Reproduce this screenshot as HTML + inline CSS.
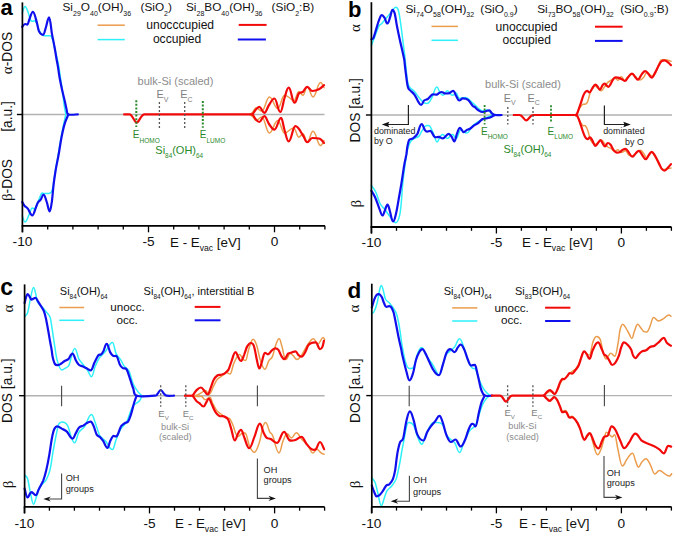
<!DOCTYPE html>
<html><head><meta charset="utf-8"><style>
html,body{margin:0;padding:0;background:#fff;overflow:hidden;width:675px;height:536px;}
svg{display:block;}
text{font-family:"Liberation Sans",sans-serif;}
</style></head><body>
<svg width="675" height="536" viewBox="0 0 675 536">
<rect width="675" height="536" fill="#fff"/>
<line x1="22.4" y1="114.5" x2="324.5" y2="114.5" stroke="#b2b2b2" stroke-width="1.4" />
<path d="M22.2,13.4 C22.7,12.2 23.8,6.5 25.0,6.5 C26.3,6.5 27.1,9.7 28.0,12.0 C28.9,14.3 29.8,18.6 30.6,20.2 C31.4,21.8 31.9,21.3 32.9,21.3 C33.6,21.3 33.9,20.7 34.6,20.7 C35.6,20.7 36.3,22.4 37.0,24.0 C37.7,25.6 38.0,28.1 39.0,30.0 C40.0,31.9 41.1,34.3 43.0,35.3 C44.9,36.3 48.7,35.3 50.2,35.8 C51.7,36.2 51.3,36.1 52.0,38.0 C52.7,39.9 53.7,43.7 54.5,47.0 C55.3,50.3 56.3,54.8 57.0,58.0 C57.7,61.2 58.1,62.7 58.7,66.0 C59.3,69.3 59.9,73.8 60.5,78.0 C61.1,82.2 61.9,86.7 62.5,91.0 C63.1,95.3 63.5,100.1 64.0,104.0 C64.5,107.9 65.5,112.7 65.8,114.4" fill="none" stroke="#2ef0f8" stroke-width="1.5" stroke-linejoin="round" stroke-linecap="round"/>
<path d="M65.8,114.4 C65.4,116.2 64.3,121.1 63.5,125.0 C62.7,128.9 61.9,133.0 61.0,138.0 C60.1,143.0 59.1,149.5 58.2,154.8 C57.3,160.1 56.4,164.7 55.5,170.0 C54.6,175.3 53.7,183.2 53.0,186.8 C52.3,190.4 52.0,190.7 51.4,191.8 C50.8,192.9 50.4,193.2 49.1,193.5 C47.8,193.8 44.8,193.4 43.5,193.5 C42.2,193.6 42.5,191.8 41.3,194.0 C40.0,196.2 37.1,204.5 36.0,207.0 C34.9,209.5 35.2,209.2 34.6,209.2 C33.6,209.2 33.3,208.0 32.3,208.0 C30.9,208.0 30.2,212.5 29.0,214.8 C27.8,217.1 26.7,222.0 25.0,222.0 C23.8,222.0 22.7,216.5 22.2,215.4" fill="none" stroke="#2ef0f8" stroke-width="1.5" stroke-linejoin="round" stroke-linecap="round"/>
<path d="M22.2,26.9 C22.7,26.4 23.8,24.0 25.0,24.0 C26.0,24.0 26.3,24.6 27.3,24.6 C28.2,24.6 28.6,21.1 29.5,19.0 C30.4,16.9 31.5,11.8 32.9,11.8 C34.5,11.8 35.8,19.1 36.8,22.4 C37.8,25.7 38.0,29.3 39.0,31.4 C40.0,33.5 41.3,34.9 43.0,34.9 C44.3,34.9 45.0,29.9 46.0,27.0 C47.0,24.1 47.8,17.4 49.1,17.4 C50.3,17.4 51.1,29.1 51.9,33.6 C52.7,38.2 53.4,40.6 54.1,44.7 C54.9,48.8 55.8,54.5 56.4,58.2 C57.0,61.9 57.5,63.7 58.0,67.1 C58.5,70.4 59.0,74.6 59.7,78.3 C60.4,82.0 61.2,85.8 62.0,89.5 C62.8,93.2 63.9,97.4 64.7,100.7 C65.5,104.0 66.0,107.2 66.6,109.5 C67.2,111.8 66.5,113.6 68.4,114.4 C70.3,115.2 76.2,114.4 77.8,114.4" fill="none" stroke="#1010ee" stroke-width="2.2" stroke-linejoin="round" stroke-linecap="round"/>
<path d="M68.4,114.4 C67.8,115.9 66.0,119.5 64.8,123.4 C63.6,127.3 62.4,132.8 61.4,138.0 C60.4,143.2 59.5,149.6 58.6,154.8 C57.7,160.0 56.6,164.4 55.8,169.4 C55.0,174.4 54.2,179.3 53.6,184.6 C53.0,189.9 52.5,196.9 51.9,201.4 C51.2,205.9 50.6,211.4 49.7,211.4 C48.5,211.4 47.9,205.3 46.9,202.5 C45.9,199.7 44.9,194.6 43.5,194.6 C42.3,194.6 41.6,198.4 40.7,199.7 C39.8,201.0 38.7,201.1 37.9,202.5 C37.1,203.9 36.6,205.8 35.7,208.0 C34.8,210.2 33.7,215.4 32.3,215.4 C30.4,215.4 29.1,210.2 27.8,208.6 C26.5,207.0 25.4,206.9 24.5,205.8 C23.6,204.7 22.6,202.6 22.2,201.9" fill="none" stroke="#1010ee" stroke-width="2.2" stroke-linejoin="round" stroke-linecap="round"/>
<path d="M250.0,114.4 C250.5,114.0 252.0,113.1 253.0,112.0 C254.0,110.9 254.7,107.8 256.0,107.8 C258.4,107.8 259.4,111.1 261.8,111.1 C265.0,111.1 266.2,96.9 269.4,96.9 C272.9,96.9 274.3,108.6 277.8,108.6 C280.6,108.6 281.7,95.2 284.5,95.2 C287.0,95.2 288.9,97.5 290.4,98.5 C291.9,99.5 292.3,101.0 293.7,101.0 C295.8,101.0 296.7,91.8 298.8,91.8 C300.6,91.8 301.2,95.2 303.0,95.2 C304.8,95.2 305.4,86.8 307.2,86.8 C309.6,86.8 310.6,96.9 313.0,96.9 C316.2,96.9 317.4,82.6 320.6,82.6 C322.0,82.6 323.4,86.8 324.0,87.6" fill="none" stroke="#eb9c4c" stroke-width="1.5" stroke-linejoin="round" stroke-linecap="round"/>
<path d="M250.0,114.4 C250.5,114.8 252.0,116.0 253.0,117.0 C254.0,118.0 254.7,120.4 256.0,120.4 C258.4,120.4 259.4,117.0 261.8,117.0 C265.0,117.0 266.2,133.0 269.4,133.0 C272.9,133.0 274.3,120.4 277.8,120.4 C280.6,120.4 281.7,133.0 284.5,133.0 C288.4,133.0 289.8,127.9 293.7,127.9 C295.8,127.9 296.7,137.2 298.8,137.2 C300.6,137.2 301.2,133.8 303.0,133.8 C304.8,133.8 305.4,142.2 307.2,142.2 C309.6,142.2 310.6,131.3 313.0,131.3 C316.2,131.3 317.4,145.6 320.6,145.6 C322.0,145.6 323.4,141.3 324.0,140.5" fill="none" stroke="#eb9c4c" stroke-width="1.5" stroke-linejoin="round" stroke-linecap="round"/>
<path d="M123.3,114.4 L129.5,114.4 C132.5,114.4 134.5,122.6 136.7,122.6 C139,122.6 141,114.4 144.5,114.4 L252.6,114.4" fill="none" stroke="#f20a0a" stroke-width="2.2"/>
<path d="M252.6,114.4 C253.1,113.7 254.4,111.2 255.5,110.0 C256.6,108.8 257.7,106.9 259.3,106.9 C261.4,106.9 262.2,112.8 264.3,112.8 C266.3,112.8 267.3,107.4 269.0,105.0 C270.7,102.6 272.1,98.5 274.4,98.5 C276.9,98.5 277.8,112.0 280.3,112.0 C282.1,112.0 283.1,102.1 284.5,98.0 C285.9,93.9 286.9,87.6 288.7,87.6 C291.2,87.6 292.1,102.7 294.6,102.7 C296.4,102.7 297.4,95.3 298.8,93.5 C300.2,91.7 301.6,92.9 303.0,91.8 C304.4,90.7 305.4,86.8 307.2,86.8 C309.3,86.8 310.1,91.0 312.2,91.0 C315.0,91.0 316.9,90.3 318.9,89.3 C320.9,88.3 323.1,85.8 324.0,85.1" fill="none" stroke="#f20a0a" stroke-width="2.2" stroke-linejoin="round" stroke-linecap="round"/>
<path d="M252.6,114.4 C253.1,115.2 254.4,117.7 255.5,119.0 C256.6,120.3 257.7,122.0 259.3,122.0 C261.4,122.0 262.2,116.2 264.3,116.2 C266.3,116.2 267.3,121.8 269.0,124.0 C270.7,126.2 272.1,129.6 274.4,129.6 C277.2,129.6 278.3,117.9 281.1,117.9 C282.5,117.9 283.2,126.1 284.5,130.0 C285.8,133.9 286.9,141.4 288.7,141.4 C291.5,141.4 292.6,126.2 295.4,126.2 C298.6,126.2 301.0,132.8 303.0,135.5 C305.0,138.2 305.4,142.2 307.2,142.2 C309.3,142.2 310.1,138.0 312.2,138.0 C315.4,138.0 317.8,138.0 319.8,138.8 C321.8,139.6 323.3,142.3 324.0,143.0" fill="none" stroke="#f20a0a" stroke-width="2.2" stroke-linejoin="round" stroke-linecap="round"/>
<line x1="136.3" y1="100.2" x2="136.3" y2="127.0" stroke="#2a8a2a" stroke-width="2" stroke-dasharray="2,1.6"/>
<line x1="202.8" y1="101.0" x2="202.8" y2="127.8" stroke="#2a8a2a" stroke-width="2" stroke-dasharray="2,1.6"/>
<line x1="159.4" y1="102.0" x2="159.4" y2="128.7" stroke="#555" stroke-width="1.3" stroke-dasharray="2,2"/>
<line x1="184.7" y1="102.0" x2="184.7" y2="128.7" stroke="#555" stroke-width="1.3" stroke-dasharray="2,2"/>
<line x1="22.4" y1="2.4" x2="22.4" y2="232.3" stroke="#000" stroke-width="1.7" />
<line x1="21.6" y1="225.8" x2="325.0" y2="225.8" stroke="#000" stroke-width="1.8" />
<line x1="22.5" y1="225.8" x2="22.5" y2="232.3" stroke="#000" stroke-width="1.3" />
<line x1="47.7" y1="225.8" x2="47.7" y2="229.6" stroke="#000" stroke-width="1.3" />
<line x1="72.9" y1="225.8" x2="72.9" y2="229.6" stroke="#000" stroke-width="1.3" />
<line x1="98.1" y1="225.8" x2="98.1" y2="229.6" stroke="#000" stroke-width="1.3" />
<line x1="123.3" y1="225.8" x2="123.3" y2="229.6" stroke="#000" stroke-width="1.3" />
<line x1="148.5" y1="225.8" x2="148.5" y2="232.3" stroke="#000" stroke-width="1.3" />
<line x1="173.7" y1="225.8" x2="173.7" y2="229.6" stroke="#000" stroke-width="1.3" />
<line x1="198.9" y1="225.8" x2="198.9" y2="229.6" stroke="#000" stroke-width="1.3" />
<line x1="224.1" y1="225.8" x2="224.1" y2="229.6" stroke="#000" stroke-width="1.3" />
<line x1="249.3" y1="225.8" x2="249.3" y2="229.6" stroke="#000" stroke-width="1.3" />
<line x1="274.5" y1="225.8" x2="274.5" y2="232.3" stroke="#000" stroke-width="1.3" />
<line x1="299.7" y1="225.8" x2="299.7" y2="229.6" stroke="#000" stroke-width="1.3" />
<line x1="324.9" y1="225.8" x2="324.9" y2="229.6" stroke="#000" stroke-width="1.3" />
<line x1="16.9" y1="114.5" x2="22.4" y2="114.5" stroke="#000" stroke-width="1.4" />
<text x="22.5" y="245.7" font-size="13.7" fill="#111" text-anchor="middle" font-weight="normal" font-family="Liberation Sans" >-10</text>
<text x="148.5" y="245.7" font-size="13.7" fill="#111" text-anchor="middle" font-weight="normal" font-family="Liberation Sans" >-5</text>
<text x="274.5" y="245.7" font-size="13.7" fill="#111" text-anchor="middle" font-weight="normal" font-family="Liberation Sans" >0</text>
<text x="170.0" y="246.5" font-size="13.4" fill="#111" font-family="Liberation Sans">E - E<tspan dy="4.3" font-size="8.6">vac</tspan><tspan dy="-4.3"> [eV]</tspan></text>
<text x="0.5" y="14.6" font-size="22" fill="#000" text-anchor="start" font-weight="bold" font-family="Liberation Sans" >a</text>
<text transform="translate(12.4,53.0) rotate(-90)" font-size="13.8" fill="#111" text-anchor="middle" font-family="Liberation Sans"><tspan font-family="Liberation Serif" font-size="15">&#945;</tspan>-DOS</text>
<text transform="translate(12.4,116.4) rotate(-90)" font-size="13.8" fill="#111" text-anchor="middle" font-family="Liberation Sans">[a.u.]</text>
<text transform="translate(12.4,180.0) rotate(-90)" font-size="13.8" fill="#111" text-anchor="middle" font-family="Liberation Sans"><tspan font-family="Liberation Serif" font-size="15">&#946;</tspan>-DOS</text>
<text x="62.5" y="11.0" font-size="11.8" fill="#111" text-anchor="start" font-weight="normal" font-family="Liberation Sans" >Si<tspan dy="5.0" font-size="7">29</tspan><tspan dy="-5.0">O</tspan><tspan dy="5.0" font-size="7">40</tspan><tspan dy="-5.0">(OH)</tspan><tspan dy="5.0" font-size="7">36</tspan></text>
<text x="140.5" y="11.0" font-size="11.8" fill="#111" text-anchor="start" font-weight="normal" font-family="Liberation Sans" >(SiO<tspan dy="5.0" font-size="7">2</tspan><tspan dy="-5.0">)</tspan></text>
<text x="186.0" y="11.0" font-size="11.8" fill="#111" text-anchor="start" font-weight="normal" font-family="Liberation Sans" >Si<tspan dy="5.0" font-size="7">28</tspan><tspan dy="-5.0">BO</tspan><tspan dy="5.0" font-size="7">40</tspan><tspan dy="-5.0">(OH)</tspan><tspan dy="5.0" font-size="7">36</tspan></text>
<text x="271.6" y="11.0" font-size="11.8" fill="#111" text-anchor="start" font-weight="normal" font-family="Liberation Sans" >(SiO<tspan dy="5.0" font-size="7">2</tspan><tspan dy="-5.0">:B)</tspan></text>
<line x1="97.6" y1="25.2" x2="124.8" y2="25.2" stroke="#eb9c4c" stroke-width="1.5" />
<line x1="97.6" y1="39.6" x2="124.8" y2="39.6" stroke="#2ef0f8" stroke-width="1.5" />
<line x1="238.7" y1="24.9" x2="266.6" y2="24.9" stroke="#f20a0a" stroke-width="2" />
<line x1="237.8" y1="39.5" x2="265.9" y2="39.5" stroke="#1010ee" stroke-width="2" />
<text x="146.2" y="28.5" font-size="12.1" fill="#111" text-anchor="start" font-weight="normal" font-family="Liberation Sans" >unocccupied</text>
<text x="152.9" y="42.8" font-size="12.1" fill="#111" text-anchor="start" font-weight="normal" font-family="Liberation Sans" >occupied</text>
<text x="137.6" y="85.1" font-size="11" fill="#8c8c8c" text-anchor="start" font-weight="normal" font-family="Liberation Sans" >bulk-Si (scaled)</text>
<text x="156.5" y="98.1" font-size="10.8" fill="#808080" text-anchor="start" font-weight="normal" font-family="Liberation Sans" >E<tspan dy="3.8" font-size="7">V</tspan></text>
<text x="180.3" y="98.1" font-size="10.8" fill="#808080" text-anchor="start" font-weight="normal" font-family="Liberation Sans" >E<tspan dy="3.8" font-size="7">C</tspan></text>
<text x="132.8" y="138.4" font-size="10" fill="#2a8a2a" text-anchor="start" font-weight="normal" font-family="Liberation Sans" >E<tspan dy="4.2" font-size="6.5">HOMO</tspan></text>
<text x="199.8" y="138.4" font-size="10" fill="#2a8a2a" text-anchor="start" font-weight="normal" font-family="Liberation Sans" >E<tspan dy="4.2" font-size="6.5">LUMO</tspan></text>
<text x="155.3" y="154.4" font-size="11" fill="#2a8a2a" text-anchor="start" font-weight="normal" font-family="Liberation Sans" >Si<tspan dy="3.8" font-size="6.4">84</tspan><tspan dy="-3.8">(OH)</tspan><tspan dy="3.8" font-size="6.4">64</tspan></text>
<line x1="371.4" y1="115.0" x2="672.0" y2="115.0" stroke="#b2b2b2" stroke-width="1.4" />
<path d="M371.4,45.4 C372.0,43.8 373.8,39.1 375.1,35.8 C376.4,32.5 377.9,27.9 379.0,25.8 C380.1,23.8 380.4,25.0 381.8,23.5 C383.2,22.0 385.7,18.9 387.4,16.8 C389.1,14.8 390.5,12.8 391.9,11.2 C393.3,9.6 394.2,7.3 395.8,7.3 C397.0,7.3 397.8,8.3 398.6,11.2 C399.4,14.1 400.1,19.4 400.8,24.6 C401.6,29.8 402.4,37.4 403.1,42.6 C403.8,47.8 404.3,51.8 404.8,56.0 C405.3,60.2 405.4,63.2 406.0,68.0 C406.6,72.8 407.0,81.0 408.4,84.9 C409.8,88.8 412.5,89.4 414.4,91.6 C416.3,93.8 418.0,96.4 419.6,98.3 C421.2,100.2 422.6,102.0 424.1,102.8 C425.6,103.5 427.2,103.8 428.6,102.8 C430.0,101.8 430.9,99.4 432.3,96.8 C433.7,94.2 434.9,87.1 436.8,87.1 C438.1,87.1 438.8,90.9 439.8,92.3 C440.8,93.7 441.5,95.3 442.8,95.3 C444.6,95.3 445.4,90.8 447.2,90.8 C449.4,90.8 450.3,95.3 452.5,95.3 C454.1,95.3 454.6,93.1 456.2,93.1 C457.5,93.1 457.9,98.3 459.2,98.3 C461.7,98.3 462.6,97.5 465.1,97.5 C468.2,97.5 470.5,101.0 472.6,102.8 C474.8,104.5 476.3,106.6 478.0,108.0 C479.7,109.4 480.9,111.0 483.0,111.0 C484.7,111.0 485.3,110.0 487.0,110.0 C488.3,110.0 489.0,111.2 490.0,112.0 C491.0,112.8 491.8,114.5 493.0,115.0 C494.2,115.5 496.3,115.0 497.0,115.0" fill="none" stroke="#2ef0f8" stroke-width="1.5" stroke-linejoin="round" stroke-linecap="round"/>
<path d="M371.3,185.4 C372.1,186.5 374.3,189.0 375.8,192.1 C377.3,195.2 378.8,201.1 380.3,204.0 C381.8,206.9 383.1,207.1 384.8,209.3 C386.5,211.6 388.8,215.3 390.7,217.5 C392.6,219.7 393.8,222.7 396.0,222.7 C397.6,222.7 398.8,219.0 399.7,215.2 C400.6,211.4 401.0,205.2 401.5,200.0 C402.0,194.8 402.1,189.7 402.7,183.9 C403.3,178.1 404.2,170.8 405.0,165.0 C405.8,159.2 406.6,152.9 407.7,148.8 C408.8,144.7 409.5,142.7 411.4,140.6 C413.3,138.5 417.1,137.7 418.9,136.1 C420.6,134.5 420.7,132.6 421.9,130.9 C423.1,129.2 424.5,125.7 426.3,125.7 C427.9,125.7 428.9,124.9 430.1,126.4 C431.4,127.9 432.6,132.0 433.8,134.6 C435.0,137.2 435.7,142.1 437.1,142.1 C438.2,142.1 438.9,138.2 439.8,136.9 C440.8,135.7 441.5,134.6 442.8,134.6 C444.6,134.6 445.4,138.4 447.2,138.4 C449.4,138.4 450.3,134.6 452.5,134.6 C454.1,134.6 454.6,138.4 456.2,138.4 C458.1,138.4 458.8,130.1 460.7,130.1 C463.2,130.1 464.1,133.1 466.6,133.1 C469.1,133.1 470.7,127.5 472.6,125.7 C474.5,123.9 476.3,123.1 478.0,122.0 C479.7,120.9 481.3,119.8 483.0,119.0 C484.7,118.2 486.3,117.7 488.0,117.0 C489.7,116.3 492.2,115.3 493.0,115.0" fill="none" stroke="#2ef0f8" stroke-width="1.5" stroke-linejoin="round" stroke-linecap="round"/>
<path d="M371.4,39.2 C371.7,39.0 372.6,39.7 373.4,38.0 C374.2,36.3 375.3,32.1 376.2,29.1 C377.1,26.1 378.1,22.5 379.0,20.2 C379.9,17.9 380.6,15.1 381.8,15.1 C383.0,15.1 383.7,16.5 384.6,17.9 C385.5,19.3 386.2,23.5 387.4,23.5 C388.6,23.5 389.4,19.1 390.2,16.8 C391.0,14.5 391.5,9.9 392.4,9.9 C393.4,9.9 393.9,10.8 394.7,13.4 C395.4,16.1 396.1,21.5 396.9,25.8 C397.7,30.1 398.8,34.9 399.7,39.2 C400.6,43.5 401.8,48.1 402.5,51.5 C403.2,54.9 403.7,56.3 404.2,59.4 C404.7,62.5 404.8,65.4 405.4,69.9 C406.0,74.4 406.9,82.9 407.7,86.3 C408.4,89.7 408.8,88.7 409.9,90.1 C411.0,91.5 413.0,92.7 414.4,94.6 C415.8,96.5 417.0,99.6 418.1,101.3 C419.2,103.0 419.8,105.0 421.1,105.0 C422.4,105.0 423.0,101.5 424.1,100.5 C425.2,99.5 426.4,100.0 427.8,99.0 C429.2,98.0 430.8,95.3 432.3,94.6 C433.8,93.9 435.3,95.0 436.8,94.6 C438.3,94.2 439.4,92.0 441.3,92.0 C443.1,92.0 443.9,93.5 445.7,93.5 C447.3,93.5 448.2,93.5 449.5,93.1 C450.8,92.6 451.6,90.8 453.2,90.8 C454.5,90.8 455.2,94.4 456.2,96.0 C457.2,97.6 457.9,100.5 459.2,100.5 C460.8,100.5 461.3,98.3 462.9,98.3 C465.1,98.3 466.5,98.6 468.1,99.8 C469.7,101.0 471.5,104.5 472.6,105.7 C473.8,106.9 474.0,106.4 475.0,107.2 C476.0,108.0 477.1,109.5 478.4,110.3 C479.7,111.1 480.8,112.0 482.6,112.0 C484.0,112.0 484.9,111.4 486.0,111.1 C487.1,110.8 487.9,110.3 489.3,110.3 C490.4,110.3 490.9,112.5 491.9,113.3 C492.9,114.1 493.6,114.7 495.2,115.0 C496.8,115.3 500.5,115.0 501.6,115.0" fill="none" stroke="#1010ee" stroke-width="2.2" stroke-linejoin="round" stroke-linecap="round"/>
<path d="M371.3,190.6 C371.9,191.7 373.7,194.2 375.1,197.3 C376.5,200.4 378.4,206.3 379.6,209.3 C380.8,212.3 381.3,215.5 382.5,215.5 C383.5,215.5 384.0,212.5 384.8,210.7 C385.6,208.9 386.4,204.5 387.5,204.5 C388.6,204.5 389.1,208.7 390.0,211.5 C390.9,214.3 391.7,221.5 393.0,221.5 C394.3,221.5 395.0,217.7 396.0,213.7 C397.0,209.7 398.2,201.9 399.0,197.3 C399.8,192.7 400.3,190.1 401.0,186.0 C401.7,181.9 402.4,177.0 403.0,173.0 C403.6,169.0 404.2,165.1 404.8,162.0 C405.4,158.9 405.9,157.1 406.4,154.4 C406.8,151.7 407.0,148.4 407.5,146.0 C408.0,143.6 408.3,141.2 409.2,139.9 C410.1,138.6 411.5,139.4 412.9,138.4 C414.3,137.4 415.9,136.3 417.4,133.9 C418.8,131.5 419.8,124.2 421.6,124.2 C423.0,124.2 424.0,128.9 424.9,130.1 C425.8,131.3 426.2,131.6 427.1,131.6 C428.4,131.6 428.8,130.9 430.1,130.9 C432.0,130.9 433.1,135.9 434.6,136.9 C436.1,137.9 437.6,136.7 439.0,136.9 C440.4,137.2 441.2,138.4 442.8,138.4 C445.3,138.4 446.2,133.9 448.7,133.9 C450.0,133.9 450.8,135.7 451.7,136.9 C452.6,138.1 453.2,141.3 454.3,141.3 C455.4,141.3 456.0,136.1 456.9,133.9 C457.8,131.7 458.6,127.9 459.9,127.9 C461.5,127.9 462.1,132.1 463.7,132.1 C464.9,132.1 465.6,130.7 466.6,130.1 C467.7,129.5 468.7,129.5 470.0,128.7 C471.3,127.9 472.8,126.4 474.2,125.4 C475.6,124.4 477.0,124.0 478.4,122.9 C479.8,121.8 481.3,119.7 482.6,119.0 C483.9,118.3 484.9,118.7 486.0,118.5 C487.1,118.3 488.3,118.1 489.3,117.8 C490.3,117.5 491.0,117.0 492.0,116.5 C493.0,116.0 494.7,115.2 495.2,115.0" fill="none" stroke="#1010ee" stroke-width="2.2" stroke-linejoin="round" stroke-linecap="round"/>
<path d="M512.9,115 L519.5,115 C522.5,115 524.2,120.4 526.3,120.4 C528.5,120.4 530,115 533,115 L575.3,115" fill="none" stroke="#f20a0a" stroke-width="2.2"/>
<path d="M575.3,115.0 C575.5,115.0 575.9,115.9 576.5,114.9 C577.1,114.0 577.9,110.9 578.7,109.3 C579.5,107.7 580.8,106.2 581.5,105.4 C582.2,104.6 582.6,104.4 583.2,104.2 C583.9,104.0 584.6,104.7 585.4,104.2 C586.1,103.7 587.0,103.2 587.7,101.4 C588.5,99.6 589.1,95.8 589.9,93.6 C590.6,91.4 591.5,89.3 592.2,88.0 C593.0,86.7 593.5,85.8 594.4,85.8 C595.8,85.8 596.7,87.2 597.8,88.0 C598.9,88.8 599.7,90.8 601.1,90.8 C602.5,90.8 603.4,88.3 604.5,86.9 C605.6,85.5 606.7,83.5 607.8,82.4 C608.9,81.3 610.1,81.0 611.2,80.2 C612.3,79.5 613.2,77.9 614.6,77.9 C616.0,77.9 616.5,80.2 617.9,80.2 C619.3,80.2 619.9,76.8 621.3,76.8 C622.7,76.8 623.2,80.2 624.6,80.2 C626.2,80.2 627.1,77.0 628.5,76.0 C629.9,75.0 631.1,74.1 632.9,74.1 C634.1,74.1 634.6,76.1 635.8,77.1 C636.9,78.1 638.1,80.1 639.8,80.1 C641.5,80.1 642.6,78.3 643.8,77.1 C644.9,75.8 645.5,72.6 646.7,72.6 C648.0,72.6 648.7,74.0 649.7,74.6 C650.8,75.2 651.6,76.0 653.0,76.0 C654.3,76.0 654.8,74.5 656.0,72.0 C657.2,69.5 658.9,63.3 660.0,61.3 C661.1,59.3 661.5,59.8 662.6,59.8 C664.4,59.8 665.6,59.8 667.0,60.0 C668.4,60.2 670.3,61.1 671.0,61.3" fill="none" stroke="#eb9c4c" stroke-width="1.5" stroke-linejoin="round" stroke-linecap="round"/>
<path d="M575.3,115.0 C575.5,115.0 575.9,114.4 576.5,115.1 C577.1,115.8 577.9,117.5 578.7,119.0 C579.5,120.5 580.8,122.9 581.5,124.0 C582.2,125.1 582.6,125.4 583.2,125.7 C583.9,126.0 584.6,125.0 585.4,125.7 C586.1,126.5 587.0,128.1 587.7,130.2 C588.5,132.2 589.1,135.9 589.9,138.0 C590.6,140.1 591.3,141.5 592.2,142.5 C593.1,143.5 594.1,144.2 595.5,144.2 C596.9,144.2 597.9,142.6 598.9,141.9 C599.9,141.2 600.5,140.2 601.7,140.2 C602.9,140.2 603.5,142.5 604.5,143.6 C605.5,144.7 606.7,146.2 607.8,147.0 C608.9,147.8 610.1,147.9 611.2,148.6 C612.3,149.3 613.2,151.4 614.6,151.4 C616.0,151.4 616.5,149.8 617.9,149.8 C619.3,149.8 619.9,152.6 621.3,152.6 C623.1,152.6 623.7,150.8 625.5,150.8 C626.9,150.8 627.7,154.4 628.9,155.2 C630.1,156.0 631.2,155.7 632.9,155.7 C634.4,155.7 635.3,153.4 636.5,152.5 C637.7,151.6 638.7,150.3 640.3,150.3 C641.8,150.3 642.7,152.5 643.8,153.7 C644.9,154.9 645.5,157.7 646.7,157.7 C648.8,157.7 649.6,152.3 651.7,152.3 C653.3,152.3 654.3,155.0 655.6,157.2 C656.9,159.4 658.3,163.5 659.6,165.6 C660.9,167.7 661.9,169.6 663.5,169.6 C665.2,169.6 666.2,168.8 667.5,168.6 C668.8,168.3 670.4,168.2 671.0,168.1" fill="none" stroke="#eb9c4c" stroke-width="1.5" stroke-linejoin="round" stroke-linecap="round"/>
<path d="M575.3,115.0 C575.5,115.0 575.9,115.9 576.5,114.9 C577.1,114.0 578.0,111.3 578.7,109.3 C579.5,107.2 580.2,104.8 581.0,102.6 C581.8,100.3 582.5,97.6 583.2,95.8 C583.9,94.0 584.8,92.7 585.4,91.9 C586.0,91.1 586.4,90.8 587.1,90.8 C588.1,90.8 588.4,92.5 589.4,92.5 C590.6,92.5 591.2,89.9 592.2,88.6 C593.2,87.3 594.1,84.6 595.5,84.6 C596.5,84.6 597.0,86.1 597.8,86.9 C598.5,87.8 599.1,89.7 600.0,89.7 C600.9,89.7 601.5,86.8 602.2,85.8 C603.0,84.8 603.5,83.5 604.5,83.5 C605.2,83.5 605.6,84.6 606.2,85.2 C606.9,85.8 607.5,86.9 608.4,86.9 C609.3,86.9 609.8,85.4 610.6,84.1 C611.4,82.8 612.5,80.1 613.4,79.0 C614.2,77.9 614.7,77.4 615.7,77.4 C617.1,77.4 617.9,77.5 619.0,77.9 C620.1,78.3 621.4,79.1 622.4,79.6 C623.4,80.1 623.9,81.0 625.0,81.0 C626.2,81.0 626.8,78.8 627.9,77.6 C629.0,76.4 630.2,73.6 631.9,73.6 C633.2,73.6 633.9,75.6 634.9,76.6 C635.9,77.6 636.6,79.6 637.8,79.6 C639.5,79.6 640.6,75.5 641.8,74.1 C643.0,72.7 643.8,71.2 645.2,71.2 C646.5,71.2 647.1,72.5 648.2,73.6 C649.3,74.7 650.2,77.6 651.7,77.6 C653.1,77.6 654.0,74.6 655.1,72.6 C656.2,70.6 657.5,67.6 658.6,65.7 C659.7,63.8 660.6,62.2 661.6,61.3 C662.6,60.4 663.3,60.3 664.5,60.3 C666.0,60.3 666.9,61.5 668.0,62.3 C669.1,63.1 670.5,64.7 671.0,65.2" fill="none" stroke="#f20a0a" stroke-width="2.2" stroke-linejoin="round" stroke-linecap="round"/>
<path d="M575.3,115.0 C575.5,115.0 575.9,114.4 576.5,115.1 C577.1,115.8 578.0,117.2 578.7,119.0 C579.5,120.8 580.2,123.5 581.0,125.7 C581.8,127.9 582.5,130.5 583.2,132.4 C583.9,134.3 584.6,136.3 585.4,137.4 C586.1,138.5 586.7,139.1 587.7,139.1 C588.6,139.1 589.0,137.4 589.9,137.4 C590.9,137.4 591.3,138.8 592.2,140.2 C593.1,141.6 594.1,145.8 595.5,145.8 C596.7,145.8 597.4,143.4 598.3,142.5 C599.1,141.6 599.6,140.2 600.6,140.2 C601.5,140.2 602.1,142.6 602.8,143.6 C603.5,144.6 604.1,146.4 605.0,146.4 C606.2,146.4 606.6,143.0 607.8,143.0 C609.0,143.0 609.7,143.6 610.6,144.7 C611.5,145.8 612.4,148.5 613.4,149.8 C614.4,151.1 615.4,152.6 616.8,152.6 C618.2,152.6 619.3,152.4 620.2,152.0 C621.1,151.6 621.1,150.8 622.0,150.3 C622.9,149.8 624.0,148.8 625.5,148.8 C626.9,148.8 627.8,151.4 628.9,152.7 C630.0,154.0 630.9,156.7 632.4,156.7 C633.8,156.7 634.7,154.2 635.8,153.2 C636.9,152.2 637.5,150.8 638.8,150.8 C640.3,150.8 641.1,153.8 642.3,155.2 C643.4,156.6 644.3,159.2 645.7,159.2 C647.0,159.2 647.7,156.4 648.7,155.2 C649.7,154.0 650.4,151.8 651.7,151.8 C652.9,151.8 653.5,153.4 654.6,155.2 C655.8,157.0 657.4,160.4 658.6,162.6 C659.8,164.8 660.6,167.3 661.6,168.6 C662.6,169.9 663.3,170.6 664.5,170.6 C666.0,170.6 666.9,168.7 668.0,167.6 C669.1,166.5 670.5,164.7 671.0,164.1" fill="none" stroke="#f20a0a" stroke-width="2.2" stroke-linejoin="round" stroke-linecap="round"/>
<line x1="484.6" y1="104.9" x2="484.6" y2="124.5" stroke="#2a8a2a" stroke-width="1.8" stroke-dasharray="2,1.6"/>
<line x1="551.0" y1="105.2" x2="551.0" y2="122.9" stroke="#2a8a2a" stroke-width="1.8" stroke-dasharray="2,1.6"/>
<line x1="507.8" y1="106.9" x2="507.8" y2="124.5" stroke="#555" stroke-width="1.3" stroke-dasharray="2,2"/>
<line x1="533.0" y1="106.9" x2="533.0" y2="124.5" stroke="#555" stroke-width="1.3" stroke-dasharray="2,2"/>
<line x1="371.4" y1="2.2" x2="371.4" y2="233.5" stroke="#000" stroke-width="1.7" />
<line x1="370.6" y1="227.0" x2="671.5" y2="227.0" stroke="#000" stroke-width="1.8" />
<line x1="371.5" y1="227.0" x2="371.5" y2="233.5" stroke="#000" stroke-width="1.3" />
<line x1="396.5" y1="227.0" x2="396.5" y2="230.8" stroke="#000" stroke-width="1.3" />
<line x1="421.5" y1="227.0" x2="421.5" y2="230.8" stroke="#000" stroke-width="1.3" />
<line x1="446.5" y1="227.0" x2="446.5" y2="230.8" stroke="#000" stroke-width="1.3" />
<line x1="471.5" y1="227.0" x2="471.5" y2="230.8" stroke="#000" stroke-width="1.3" />
<line x1="496.4" y1="227.0" x2="496.4" y2="233.5" stroke="#000" stroke-width="1.3" />
<line x1="521.4" y1="227.0" x2="521.4" y2="230.8" stroke="#000" stroke-width="1.3" />
<line x1="546.4" y1="227.0" x2="546.4" y2="230.8" stroke="#000" stroke-width="1.3" />
<line x1="571.4" y1="227.0" x2="571.4" y2="230.8" stroke="#000" stroke-width="1.3" />
<line x1="596.4" y1="227.0" x2="596.4" y2="230.8" stroke="#000" stroke-width="1.3" />
<line x1="621.4" y1="227.0" x2="621.4" y2="233.5" stroke="#000" stroke-width="1.3" />
<line x1="646.4" y1="227.0" x2="646.4" y2="230.8" stroke="#000" stroke-width="1.3" />
<line x1="671.4" y1="227.0" x2="671.4" y2="230.8" stroke="#000" stroke-width="1.3" />
<line x1="365.9" y1="115.0" x2="371.4" y2="115.0" stroke="#000" stroke-width="1.4" />
<text x="371.5" y="246.6" font-size="13.7" fill="#111" text-anchor="middle" font-weight="normal" font-family="Liberation Sans" >-10</text>
<text x="496.4" y="246.6" font-size="13.7" fill="#111" text-anchor="middle" font-weight="normal" font-family="Liberation Sans" >-5</text>
<text x="621.4" y="246.6" font-size="13.7" fill="#111" text-anchor="middle" font-weight="normal" font-family="Liberation Sans" >0</text>
<text x="522.1" y="246.6" font-size="13.4" fill="#111" font-family="Liberation Sans">E - E<tspan dy="4.3" font-size="8.6">vac</tspan><tspan dy="-4.3"> [eV]</tspan></text>
<text x="348.0" y="17.0" font-size="22" fill="#000" text-anchor="start" font-weight="bold" font-family="Liberation Sans" >b</text>
<text transform="translate(360.0,28.0) rotate(-90)" font-size="15" fill="#111" text-anchor="middle" font-family="Liberation Sans"><tspan font-family="Liberation Serif">&#945;</tspan></text>
<text transform="translate(360.3,110.3) rotate(-90)" font-size="13.8" fill="#111" text-anchor="middle" font-family="Liberation Sans">DOS [a.u.]</text>
<text transform="translate(360.5,203.6) rotate(-90)" font-size="15" fill="#111" text-anchor="middle" font-family="Liberation Sans"><tspan font-family="Liberation Serif">&#946;</tspan></text>
<text x="405.5" y="12.5" font-size="11.8" fill="#111" text-anchor="start" font-weight="normal" font-family="Liberation Sans" >Si<tspan dy="4.5" font-size="7">74</tspan><tspan dy="-4.5">O</tspan><tspan dy="4.5" font-size="7">58</tspan><tspan dy="-4.5">(OH)</tspan><tspan dy="4.5" font-size="7">32</tspan></text>
<text x="480.3" y="12.5" font-size="11.8" fill="#111" text-anchor="start" font-weight="normal" font-family="Liberation Sans" >(SiO<tspan dy="4.5" font-size="7">0.9</tspan><tspan dy="-4.5">)</tspan></text>
<text x="537.2" y="12.5" font-size="11.8" fill="#111" text-anchor="start" font-weight="normal" font-family="Liberation Sans" >Si<tspan dy="4.5" font-size="7">73</tspan><tspan dy="-4.5">BO</tspan><tspan dy="4.5" font-size="7">58</tspan><tspan dy="-4.5">(OH)</tspan><tspan dy="4.5" font-size="7">32</tspan></text>
<text x="620.2" y="12.5" font-size="11.8" fill="#111" text-anchor="start" font-weight="normal" font-family="Liberation Sans" >(SiO<tspan dy="4.5" font-size="7">0.9</tspan><tspan dy="-4.5">:B)</tspan></text>
<line x1="431.5" y1="26.4" x2="457.9" y2="26.4" stroke="#eb9c4c" stroke-width="1.5" />
<line x1="431.5" y1="40.3" x2="457.9" y2="40.3" stroke="#2ef0f8" stroke-width="1.5" />
<line x1="595.0" y1="26.7" x2="622.6" y2="26.7" stroke="#f20a0a" stroke-width="2" />
<line x1="595.0" y1="40.9" x2="622.6" y2="40.9" stroke="#1010ee" stroke-width="2" />
<text x="495.6" y="30.5" font-size="12.1" fill="#111" text-anchor="start" font-weight="normal" font-family="Liberation Sans" >unoccupied</text>
<text x="502.5" y="44.4" font-size="12.1" fill="#111" text-anchor="start" font-weight="normal" font-family="Liberation Sans" >occupied</text>
<text x="485.1" y="88.1" font-size="11" fill="#8c8c8c" text-anchor="start" font-weight="normal" font-family="Liberation Sans" >bulk-Si (scaled)</text>
<text x="503.7" y="101.6" font-size="10.8" fill="#808080" text-anchor="start" font-weight="normal" font-family="Liberation Sans" >E<tspan dy="3.8" font-size="7">V</tspan></text>
<text x="527.5" y="101.6" font-size="10.8" fill="#808080" text-anchor="start" font-weight="normal" font-family="Liberation Sans" >E<tspan dy="3.8" font-size="7">C</tspan></text>
<text x="481.0" y="134.6" font-size="10" fill="#2a8a2a" text-anchor="start" font-weight="normal" font-family="Liberation Sans" >E<tspan dy="4.2" font-size="6.5">HOMO</tspan></text>
<text x="547.6" y="134.6" font-size="10" fill="#2a8a2a" text-anchor="start" font-weight="normal" font-family="Liberation Sans" >E<tspan dy="4.2" font-size="6.5">LUMO</tspan></text>
<text x="503.6" y="153.1" font-size="11" fill="#2a8a2a" text-anchor="start" font-weight="normal" font-family="Liberation Sans" >Si<tspan dy="3.8" font-size="6.4">84</tspan><tspan dy="-3.8">(OH)</tspan><tspan dy="3.8" font-size="6.4">64</tspan></text>
<path d="M408.4,105.1 L408.4,124.5 L386.8,124.5" fill="none" stroke="#222" stroke-width="1.2"/>
<path d="M381.8,124.5 L389.3,121.7 L388.1,124.5 L389.3,127.3 Z" fill="#111"/>
<path d="M604.4,105.5 L604.4,124.5 L625.8,124.5" fill="none" stroke="#222" stroke-width="1.2"/>
<path d="M630.8,124.5 L623.3,121.7 L624.5,124.5 L623.3,127.3 Z" fill="#111"/>
<text x="374.0" y="133.6" font-size="8.9" fill="#222" text-anchor="start" font-weight="normal" font-family="Liberation Sans" >dominated</text>
<text x="374.0" y="144.3" font-size="8.9" fill="#222" text-anchor="start" font-weight="normal" font-family="Liberation Sans" >by O</text>
<text x="603.2" y="134.4" font-size="8.9" fill="#222" text-anchor="start" font-weight="normal" font-family="Liberation Sans" >dominated</text>
<text x="643.8" y="145.4" font-size="8.9" fill="#222" text-anchor="end" font-weight="normal" font-family="Liberation Sans" >by O</text>
<line x1="24.6" y1="395.7" x2="324.6" y2="395.7" stroke="#b2b2b2" stroke-width="1.4" />
<path d="M24.6,316.5 C25.1,315.9 26.6,315.9 27.6,312.8 C28.6,309.7 29.6,302.1 30.6,297.9 C31.6,293.7 32.3,287.4 33.6,287.4 C34.5,287.4 35.2,291.7 35.8,294.1 C36.4,296.5 36.5,299.7 37.3,301.6 C38.0,303.5 39.3,304.2 40.3,305.3 C41.3,306.4 42.3,307.2 43.3,308.3 C44.3,309.4 45.2,310.6 46.3,312.0 C47.4,313.4 49.0,314.3 50.0,317.0 C51.0,319.7 51.4,324.5 52.0,328.0 C52.6,331.5 53.0,334.7 53.5,338.0 C54.0,341.3 54.4,344.3 55.0,348.0 C55.6,351.7 56.1,356.6 57.2,360.3 C58.3,364.0 59.8,370.0 61.6,370.0 C63.2,370.0 64.2,369.0 65.4,368.1 C66.7,367.2 67.5,368.1 69.1,364.8 C70.7,361.5 72.4,348.4 74.8,348.4 C76.5,348.4 77.4,356.1 78.8,358.8 C80.2,361.5 81.8,362.8 83.3,364.8 C84.8,366.8 86.4,368.7 87.8,370.7 C89.2,372.7 89.9,376.7 91.5,376.7 C93.1,376.7 93.8,369.5 95.2,366.3 C96.6,363.1 98.0,359.8 99.7,357.3 C101.5,354.8 103.6,353.8 105.7,351.3 C107.8,348.8 109.6,342.4 112.4,342.4 C114.0,342.4 114.7,350.7 116.1,353.6 C117.5,356.5 119.2,357.5 120.6,359.6 C122.0,361.7 122.9,364.5 124.3,366.3 C125.7,368.1 127.3,367.7 128.8,370.7 C130.3,373.7 131.7,380.6 133.3,384.2 C134.9,387.8 137.1,390.5 138.5,392.4 C139.9,394.3 141.4,395.1 142.0,395.7" fill="none" stroke="#2ef0f8" stroke-width="1.5" stroke-linejoin="round" stroke-linecap="round"/>
<path d="M142.0,395.7 C141.6,396.6 140.9,399.1 139.3,401.0 C137.7,402.9 134.6,403.4 132.5,406.9 C130.4,410.4 128.6,418.2 126.6,421.9 C124.6,425.6 122.3,426.3 120.6,429.3 C118.8,432.3 117.5,436.4 116.1,439.8 C114.7,443.2 114.0,449.5 112.4,449.5 C109.6,449.5 107.8,443.7 105.7,441.3 C103.6,438.9 101.5,438.4 99.7,435.3 C98.0,432.2 96.6,426.1 95.2,422.6 C93.8,419.1 93.1,414.4 91.5,414.4 C88.7,414.4 86.9,423.3 84.8,426.3 C82.7,429.3 80.5,429.6 78.8,432.3 C77.1,435.1 76.4,442.8 74.6,442.8 C73.2,442.8 72.5,440.4 71.3,437.5 C70.1,434.6 69.1,428.2 67.6,425.6 C66.1,423.0 64.4,421.9 62.1,421.9 C60.7,421.9 59.7,422.1 58.7,424.1 C57.8,426.1 57.0,431.2 56.4,433.8 C55.8,436.4 55.8,437.0 55.2,440.0 C54.6,443.0 53.9,446.9 53.0,451.9 C52.1,456.9 51.1,465.3 50.0,469.9 C48.9,474.5 47.7,477.1 46.3,479.6 C44.9,482.1 43.0,483.2 41.8,484.8 C40.5,486.4 39.8,486.9 38.8,489.3 C37.8,491.7 36.7,496.5 35.8,499.0 C34.9,501.5 34.5,504.2 33.6,504.2 C32.3,504.2 31.6,497.9 30.6,493.7 C29.6,489.5 28.6,481.9 27.6,478.8 C26.6,475.7 25.1,475.7 24.6,475.1" fill="none" stroke="#2ef0f8" stroke-width="1.5" stroke-linejoin="round" stroke-linecap="round"/>
<path d="M24.6,303.1 C24.9,302.1 25.6,298.6 26.1,297.1 C26.6,295.6 27.0,294.1 27.6,294.1 C28.6,294.1 29.3,296.2 29.9,297.1 C30.5,298.0 30.7,299.6 31.3,299.6 C32.3,299.6 32.9,298.9 33.6,298.6 C34.3,298.3 34.7,297.9 35.5,297.9 C36.6,297.9 37.2,300.2 38.1,301.6 C39.0,303.0 40.0,304.5 41.0,306.1 C42.0,307.7 43.1,309.0 44.0,311.3 C44.9,313.6 45.5,316.7 46.3,320.2 C47.0,323.7 47.9,328.7 48.5,332.2 C49.1,335.7 49.5,338.2 50.0,341.0 C50.5,343.8 51.0,346.3 51.5,349.0 C52.0,351.7 52.1,354.8 52.7,357.3 C53.3,359.8 54.0,362.7 54.9,364.0 C55.8,365.3 56.6,365.1 57.9,365.1 C59.5,365.1 60.5,364.0 61.6,363.3 C62.7,362.6 63.5,361.7 64.6,361.0 C65.7,360.3 67.1,360.3 68.4,359.1 C69.7,357.9 70.8,353.6 72.5,353.6 C73.9,353.6 74.8,358.4 75.8,360.3 C76.8,362.2 77.7,363.8 78.8,364.8 C79.9,365.8 81.1,365.7 82.5,366.3 C83.9,366.9 85.6,367.8 87.0,368.5 C88.4,369.2 89.1,370.4 90.7,370.4 C92.3,370.4 93.2,365.0 94.5,362.5 C95.8,360.0 97.1,356.9 98.2,355.5 C99.3,354.1 100.3,355.0 101.2,354.3 C102.1,353.6 102.5,353.0 103.4,351.3 C104.3,349.6 105.3,343.9 106.7,343.9 C108.1,343.9 109.0,350.1 110.1,352.1 C111.2,354.1 112.0,355.1 113.1,355.8 C114.2,356.6 115.8,355.1 116.9,356.6 C118.0,358.1 118.9,362.9 119.9,364.8 C120.9,366.7 121.7,367.4 122.8,368.1 C123.9,368.9 125.3,367.4 126.6,369.3 C127.8,371.2 129.2,376.5 130.3,379.7 C131.4,382.9 132.2,386.0 133.3,388.7 C134.4,391.4 133.1,394.5 136.7,395.7 C140.3,396.9 151.2,396.0 154.7,395.7 C158.2,395.4 156.5,394.8 157.5,393.8 C158.5,392.9 159.4,390.0 160.7,390.0 C162.1,390.0 163.0,392.9 164.0,393.8 C165.0,394.8 165.0,395.4 166.7,395.7 C168.4,396.0 172.8,395.7 174.0,395.7" fill="none" stroke="#1010ee" stroke-width="2.2" stroke-linejoin="round" stroke-linecap="round"/>
<path d="M136.7,395.7 C136.2,396.9 134.9,400.1 134.0,403.2 C133.1,406.3 132.0,411.3 131.0,414.4 C130.0,417.4 129.1,420.1 128.1,421.5 C127.1,422.9 126.0,422.4 125.0,423.0 C124.0,423.6 122.7,424.6 122.0,425.3 C121.3,426.0 121.4,425.3 120.6,427.1 C119.8,428.9 118.2,434.5 116.9,436.0 C115.7,437.5 114.2,435.1 113.1,436.0 C112.0,436.9 111.0,439.3 110.1,441.3 C109.2,443.3 108.6,448.0 107.5,448.0 C105.8,448.0 104.6,443.1 103.4,441.3 C102.2,439.6 101.5,438.6 100.4,437.5 C99.3,436.4 97.8,436.5 96.7,434.6 C95.6,432.7 94.7,428.5 93.7,426.3 C92.7,424.1 92.0,421.6 90.7,421.6 C88.9,421.6 87.5,422.7 86.3,423.4 C85.1,424.1 84.5,424.9 83.3,425.6 C82.1,426.3 80.3,426.2 79.1,427.5 C77.8,428.8 76.9,431.2 75.8,433.1 C74.7,435.0 73.9,438.6 72.5,438.6 C70.1,438.6 68.7,433.3 66.9,431.6 C65.1,429.9 63.2,429.5 61.6,428.6 C60.0,427.7 59.0,426.3 57.2,426.3 C55.9,426.3 55.1,427.3 54.2,429.3 C53.3,431.3 52.7,434.0 51.9,438.3 C51.1,442.6 50.2,449.6 49.3,454.9 C48.4,460.2 47.3,465.7 46.3,469.9 C45.3,474.1 44.5,477.1 43.3,480.3 C42.0,483.5 40.0,486.8 38.8,489.3 C37.5,491.8 37.1,495.2 35.8,495.2 C34.9,495.2 34.3,494.2 33.6,493.7 C32.9,493.2 32.4,492.2 31.6,492.2 C30.9,492.2 30.6,492.8 29.9,493.7 C29.2,494.6 28.6,497.5 27.6,497.5 C26.3,497.5 25.1,490.0 24.6,488.5" fill="none" stroke="#1010ee" stroke-width="2.2" stroke-linejoin="round" stroke-linecap="round"/>
<path d="M194.9,395.7 C195.4,395.6 196.9,395.3 198.0,394.8 C199.1,394.3 200.4,393.4 201.6,392.7 C202.8,392.0 203.8,390.4 205.4,390.4 C207.0,390.4 207.5,394.2 209.1,394.2 C211.0,394.2 212.2,388.5 213.6,386.0 C215.0,383.5 215.8,381.1 217.3,379.3 C218.8,377.6 221.0,376.6 222.5,375.5 C224.0,374.4 224.7,372.5 226.3,372.5 C227.9,372.5 228.4,374.0 230.0,374.0 C231.6,374.0 232.4,366.6 233.7,363.6 C234.9,360.6 236.5,357.6 237.5,356.1 C238.5,354.6 238.8,354.6 239.7,354.6 C241.0,354.6 241.8,358.1 242.7,359.1 C243.6,360.1 244.3,360.6 245.4,360.6 C246.8,360.6 247.4,353.0 248.7,349.4 C250.0,345.8 251.3,339.2 253.1,339.2 C254.6,339.2 255.5,341.9 256.7,345.4 C257.9,348.9 259.0,356.3 260.4,360.3 C261.8,364.3 263.0,369.3 264.9,369.3 C266.5,369.3 267.4,363.1 268.7,361.0 C269.9,358.9 271.3,359.1 272.4,356.6 C273.5,354.1 274.3,349.1 275.4,346.1 C276.5,343.1 277.5,338.7 279.1,338.7 C280.4,338.7 281.0,343.4 282.1,346.9 C283.2,350.4 284.2,359.6 285.8,359.6 C287.7,359.6 288.4,353.6 290.3,353.6 C291.6,353.6 292.2,354.8 293.3,355.8 C294.4,356.8 295.4,359.6 297.0,359.6 C298.9,359.6 299.9,357.4 301.5,355.1 C303.1,352.9 305.2,348.5 306.7,346.1 C308.2,343.7 309.3,342.1 310.4,340.9 C311.5,339.7 312.1,338.7 313.4,338.7 C315.3,338.7 316.0,343.9 317.9,343.9 C320.1,343.9 320.9,337.6 323.1,337.6 C323.7,337.6 324.4,339.1 324.6,339.4" fill="none" stroke="#eb9c4c" stroke-width="1.5" stroke-linejoin="round" stroke-linecap="round"/>
<path d="M194.9,395.7 C195.4,395.8 196.8,396.4 198.0,396.5 C199.2,396.6 200.7,395.9 201.9,396.5 C203.1,397.1 203.8,399.8 205.2,399.8 C207.3,399.8 208.0,397.3 210.1,397.3 C211.1,397.3 211.4,400.8 212.5,403.0 C213.6,405.2 215.1,408.5 216.6,410.4 C218.1,412.3 220.0,413.2 221.5,414.4 C223.0,415.6 224.2,417.0 225.6,417.7 C226.9,418.4 228.4,417.3 229.6,418.5 C230.8,419.7 231.5,422.0 232.9,425.0 C234.3,428.0 235.7,436.4 237.8,436.4 C239.9,436.4 240.6,433.2 242.7,433.2 C244.1,433.2 244.9,431.9 246.0,434.0 C247.1,436.1 248.1,442.9 249.5,446.0 C250.9,449.1 252.3,452.3 254.4,452.3 C256.5,452.3 258.1,446.1 259.5,442.0 C260.9,437.9 261.6,430.9 262.6,427.7 C263.6,424.5 264.3,422.6 265.6,422.6 C267.3,422.6 268.5,429.6 269.7,431.8 C270.9,434.0 271.2,432.4 272.8,435.9 C274.4,439.4 276.4,452.9 279.0,452.9 C280.7,452.9 281.6,444.2 283.0,441.0 C284.4,437.8 285.4,433.8 287.2,433.8 C288.9,433.8 289.6,437.9 291.3,437.9 C293.4,437.9 294.3,432.8 296.4,432.8 C298.5,432.8 299.6,436.9 301.5,439.0 C303.4,441.1 305.8,442.8 307.7,445.1 C309.6,447.4 310.7,452.9 312.8,452.9 C314.5,452.9 315.2,449.2 316.9,449.2 C318.6,449.2 319.8,452.0 321.0,452.9 C322.2,453.8 323.6,454.1 324.1,454.3" fill="none" stroke="#eb9c4c" stroke-width="1.5" stroke-linejoin="round" stroke-linecap="round"/>
<line x1="184.0" y1="395.7" x2="192.7" y2="395.7" stroke="#f20a0a" stroke-width="2.2" />
<path d="M192.7,395.7 C193.3,394.8 195.0,391.8 196.4,390.4 C197.8,389.0 199.0,387.5 200.9,387.5 C202.5,387.5 203.5,390.0 204.6,391.2 C205.7,392.4 206.3,394.5 207.6,394.5 C208.9,394.5 209.6,390.6 210.6,388.2 C211.6,385.8 212.5,382.1 213.6,380.0 C214.7,377.9 216.1,376.4 217.3,375.5 C218.5,374.6 219.8,375.2 221.0,374.8 C222.2,374.4 223.6,374.2 224.8,373.3 C226.1,372.4 227.4,371.6 228.5,369.6 C229.6,367.6 230.3,364.2 231.5,361.3 C232.7,358.4 233.8,352.1 235.5,352.1 C236.6,352.1 237.3,355.4 238.2,356.9 C239.1,358.4 239.8,361.0 240.9,361.0 C242.3,361.0 243.1,357.0 244.2,354.6 C245.2,352.2 246.1,348.3 247.2,346.4 C248.3,344.5 249.3,343.0 250.9,343.0 C252.2,343.0 252.9,343.2 253.9,346.0 C254.9,348.8 256.0,356.2 256.9,360.0 C257.8,363.8 258.3,368.5 259.3,368.5 C260.4,368.5 261.0,364.4 261.9,361.8 C262.8,359.2 263.6,352.8 264.9,352.8 C266.2,352.8 266.6,354.3 267.9,354.3 C269.5,354.3 270.4,351.6 271.6,350.6 C272.9,349.6 273.8,348.4 275.4,348.4 C276.7,348.4 277.4,348.7 278.4,349.9 C279.4,351.1 280.3,354.3 281.3,355.8 C282.3,357.3 283.0,359.1 284.3,359.1 C285.9,359.1 286.9,354.7 288.1,353.6 C289.4,352.5 290.6,352.9 291.8,352.5 C293.0,352.1 293.9,351.3 295.5,351.3 C296.8,351.3 297.5,354.2 298.5,355.1 C299.5,356.0 300.2,356.6 301.5,356.6 C303.1,356.6 304.1,354.0 305.2,352.1 C306.3,350.2 307.2,346.9 308.2,345.4 C309.2,343.9 309.9,343.6 311.2,343.1 C312.4,342.6 313.8,342.4 315.7,342.4 C317.5,342.4 318.3,349.1 320.1,349.1 C321.1,349.1 321.8,348.3 322.4,346.9 C323.0,345.5 323.6,341.9 323.9,340.9" fill="none" stroke="#f20a0a" stroke-width="2.2" stroke-linejoin="round" stroke-linecap="round"/>
<path d="M192.7,395.7 C193.3,396.6 195.3,399.7 196.4,400.9 C197.5,402.1 198.2,402.2 199.4,403.1 C200.6,404.0 201.8,406.5 203.6,406.5 C204.8,406.5 205.6,403.3 206.5,402.0 C207.4,400.7 207.8,398.5 208.8,398.5 C209.9,398.5 210.4,401.2 211.3,403.1 C212.2,405.0 213.4,408.2 214.3,410.0 C215.2,411.8 216.1,413.0 217.0,414.0 C217.9,415.0 218.8,415.7 219.9,416.1 C221.1,416.5 222.6,415.9 223.9,416.4 C225.2,416.9 226.8,417.2 228.0,419.3 C229.2,421.4 230.2,425.6 231.3,429.1 C232.4,432.6 233.3,440.5 234.8,440.5 C236.1,440.5 236.8,435.8 237.8,434.0 C238.8,432.2 239.7,429.9 241.0,429.9 C242.4,429.9 242.9,434.4 244.3,437.5 C245.7,440.6 247.1,448.2 249.2,448.2 C251.4,448.2 252.6,441.0 254.4,436.9 C256.2,432.8 257.6,423.6 259.9,423.6 C261.5,423.6 262.5,430.4 263.6,432.8 C264.7,435.2 265.5,436.9 266.7,437.9 C267.9,438.9 269.1,438.1 270.8,439.0 C272.5,439.9 274.3,443.0 276.9,443.0 C279.9,443.0 281.1,431.8 284.1,431.8 C286.2,431.8 287.3,438.6 289.2,440.0 C291.1,441.4 293.3,440.5 295.4,440.0 C297.4,439.5 298.9,436.9 301.5,436.9 C303.6,436.9 304.9,442.1 306.6,444.1 C308.3,446.2 310.2,448.4 311.8,449.2 C313.4,450.0 314.5,450.4 315.9,449.2 C317.3,448.0 318.3,442.0 320.0,442.0 C321.7,442.0 323.4,448.0 324.1,449.2" fill="none" stroke="#f20a0a" stroke-width="2.2" stroke-linejoin="round" stroke-linecap="round"/>
<line x1="160.7" y1="385.3" x2="160.7" y2="406.7" stroke="#555" stroke-width="1.3" stroke-dasharray="2,2"/>
<line x1="185.8" y1="385.3" x2="185.8" y2="406.7" stroke="#555" stroke-width="1.3" stroke-dasharray="2,2"/>
<line x1="61.6" y1="385.7" x2="61.6" y2="406.2" stroke="#444" stroke-width="1.1" />
<line x1="257.4" y1="385.5" x2="257.4" y2="406.2" stroke="#444" stroke-width="1.1" />
<line x1="24.6" y1="284.4" x2="24.6" y2="513.4" stroke="#000" stroke-width="1.7" />
<line x1="23.8" y1="506.9" x2="324.6" y2="506.9" stroke="#000" stroke-width="1.8" />
<line x1="24.4" y1="506.9" x2="24.4" y2="513.4" stroke="#000" stroke-width="1.3" />
<line x1="49.4" y1="506.9" x2="49.4" y2="510.7" stroke="#000" stroke-width="1.3" />
<line x1="74.4" y1="506.9" x2="74.4" y2="510.7" stroke="#000" stroke-width="1.3" />
<line x1="99.5" y1="506.9" x2="99.5" y2="510.7" stroke="#000" stroke-width="1.3" />
<line x1="124.5" y1="506.9" x2="124.5" y2="510.7" stroke="#000" stroke-width="1.3" />
<line x1="149.5" y1="506.9" x2="149.5" y2="513.4" stroke="#000" stroke-width="1.3" />
<line x1="174.5" y1="506.9" x2="174.5" y2="510.7" stroke="#000" stroke-width="1.3" />
<line x1="199.5" y1="506.9" x2="199.5" y2="510.7" stroke="#000" stroke-width="1.3" />
<line x1="224.6" y1="506.9" x2="224.6" y2="510.7" stroke="#000" stroke-width="1.3" />
<line x1="249.6" y1="506.9" x2="249.6" y2="510.7" stroke="#000" stroke-width="1.3" />
<line x1="274.6" y1="506.9" x2="274.6" y2="513.4" stroke="#000" stroke-width="1.3" />
<line x1="299.6" y1="506.9" x2="299.6" y2="510.7" stroke="#000" stroke-width="1.3" />
<line x1="324.6" y1="506.9" x2="324.6" y2="510.7" stroke="#000" stroke-width="1.3" />
<line x1="19.1" y1="395.7" x2="24.6" y2="395.7" stroke="#000" stroke-width="1.4" />
<text x="24.4" y="527.8" font-size="13.7" fill="#111" text-anchor="middle" font-weight="normal" font-family="Liberation Sans" >-10</text>
<text x="149.5" y="527.8" font-size="13.7" fill="#111" text-anchor="middle" font-weight="normal" font-family="Liberation Sans" >-5</text>
<text x="274.6" y="527.8" font-size="13.7" fill="#111" text-anchor="middle" font-weight="normal" font-family="Liberation Sans" >0</text>
<text x="175.1" y="527.8" font-size="13.4" fill="#111" font-family="Liberation Sans">E - E<tspan dy="4.3" font-size="8.6">vac</tspan><tspan dy="-4.3"> [eV]</tspan></text>
<text x="0.3" y="295.4" font-size="23" fill="#000" text-anchor="start" font-weight="bold" font-family="Liberation Sans" >c</text>
<text transform="translate(12.6,308.7) rotate(-90)" font-size="15" fill="#111" text-anchor="middle" font-family="Liberation Sans"><tspan font-family="Liberation Serif">&#945;</tspan></text>
<text transform="translate(12.3,390.7) rotate(-90)" font-size="13.8" fill="#111" text-anchor="middle" font-family="Liberation Sans">DOS [a.u.]</text>
<text transform="translate(12.5,484.4) rotate(-90)" font-size="15" fill="#111" text-anchor="middle" font-family="Liberation Sans"><tspan font-family="Liberation Serif">&#946;</tspan></text>
<text x="59.8" y="295.0" font-size="11" fill="#111" text-anchor="start" font-weight="normal" font-family="Liberation Sans" >Si<tspan dy="3.8" font-size="6.4">84</tspan><tspan dy="-3.8">(OH)</tspan><tspan dy="3.8" font-size="6.4">64</tspan></text>
<text x="143.6" y="295.0" font-size="11" fill="#111" text-anchor="start" font-weight="normal" font-family="Liberation Sans" >Si<tspan dy="3.8" font-size="6.4">84</tspan><tspan dy="-3.8">(OH)</tspan><tspan dy="3.8" font-size="6.4">64</tspan><tspan dy="-3.8">, interstitial B</tspan></text>
<line x1="59.3" y1="307.5" x2="84.2" y2="307.5" stroke="#eb9c4c" stroke-width="1.5" />
<line x1="59.3" y1="320.3" x2="84.2" y2="320.3" stroke="#2ef0f8" stroke-width="1.5" />
<line x1="194.7" y1="306.9" x2="220.5" y2="306.9" stroke="#f20a0a" stroke-width="2" />
<line x1="194.7" y1="320.3" x2="220.5" y2="320.3" stroke="#1010ee" stroke-width="2" />
<text x="110.3" y="310.6" font-size="11.7" fill="#111" text-anchor="start" font-weight="normal" font-family="Liberation Sans" >unocc.</text>
<text x="116.4" y="324.0" font-size="11.7" fill="#111" text-anchor="start" font-weight="normal" font-family="Liberation Sans" >occ.</text>
<text x="158.3" y="416.9" font-size="9.5" fill="#808080" text-anchor="start" font-weight="normal" font-family="Liberation Sans" >E<tspan dy="3.4" font-size="6.2">V</tspan></text>
<text x="182.7" y="416.9" font-size="9.5" fill="#808080" text-anchor="start" font-weight="normal" font-family="Liberation Sans" >E<tspan dy="3.4" font-size="6.2">C</tspan></text>
<text x="175.1" y="429.6" font-size="9.2" fill="#8c8c8c" text-anchor="middle" font-weight="normal" font-family="Liberation Sans" >bulk-Si</text>
<text x="175.3" y="439.9" font-size="9.2" fill="#8c8c8c" text-anchor="middle" font-weight="normal" font-family="Liberation Sans" >(scaled)</text>
<path d="M61.6,473.6 L61.6,499.0 L48.3,499.0" fill="none" stroke="#444" stroke-width="1.1"/>
<path d="M43.3,499.0 L50.8,496.4 L48.5,499.0 L50.8,501.6 Z" fill="#111"/>
<path d="M257.4,458.4 L257.4,498.4 L270.9,498.4" fill="none" stroke="#444" stroke-width="1.1"/>
<path d="M275.9,498.4 L268.4,495.8 L270.7,498.4 L268.4,501.0 Z" fill="#111"/>
<text x="65.7" y="481.0" font-size="9.2" fill="#222" text-anchor="start" font-weight="normal" font-family="Liberation Sans" >OH</text>
<text x="65.7" y="491.5" font-size="9.2" fill="#222" text-anchor="start" font-weight="normal" font-family="Liberation Sans" >groups</text>
<text x="263.6" y="473.4" font-size="9.2" fill="#222" text-anchor="start" font-weight="normal" font-family="Liberation Sans" >OH</text>
<text x="263.6" y="483.0" font-size="9.2" fill="#222" text-anchor="start" font-weight="normal" font-family="Liberation Sans" >groups</text>
<line x1="371.8" y1="395.6" x2="672.0" y2="395.6" stroke="#b2b2b2" stroke-width="1.4" />
<path d="M371.8,313.5 C372.2,313.1 373.4,313.2 374.3,311.3 C375.2,309.4 376.4,305.8 377.3,302.3 C378.2,298.8 378.8,293.2 379.5,290.4 C380.2,287.6 380.5,285.6 381.3,285.6 C382.1,285.6 382.6,288.1 383.3,290.4 C384.0,292.7 384.6,297.4 385.5,299.3 C386.4,301.2 387.6,301.1 388.5,302.0 C389.4,302.9 389.7,303.3 390.7,304.6 C391.7,305.9 393.5,308.2 394.5,309.8 C395.5,311.4 395.8,312.0 396.5,314.0 C397.2,316.0 397.8,318.7 398.5,322.0 C399.2,325.3 399.9,330.2 400.5,334.0 C401.1,337.8 401.2,340.4 402.0,345.0 C402.8,349.6 404.2,357.9 405.4,361.8 C406.6,365.7 407.6,368.5 409.2,368.5 C411.1,368.5 412.3,369.4 413.7,367.0 C415.1,364.6 416.1,357.5 417.4,354.3 C418.7,351.1 419.8,347.6 421.6,347.6 C423.6,347.6 424.5,353.1 426.3,355.8 C428.1,358.5 430.4,361.0 432.3,364.0 C434.2,367.0 436.3,371.9 437.5,373.7 C438.7,375.4 438.7,374.5 439.5,374.5 C440.9,374.5 441.7,368.1 442.8,364.8 C443.9,361.6 445.0,357.1 446.0,355.0 C447.0,352.9 447.2,353.5 448.7,352.1 C450.1,350.8 452.9,349.1 454.7,346.9 C456.5,344.7 457.5,338.7 459.5,338.7 C461.3,338.7 462.4,343.5 463.7,346.9 C465.0,350.2 466.0,355.3 467.4,358.8 C468.8,362.3 470.5,366.1 471.9,367.8 C473.3,369.6 474.5,367.6 475.6,369.3 C476.7,371.0 477.4,375.2 478.6,378.2 C479.8,381.2 481.5,385.0 482.7,387.3 C483.9,389.6 484.8,390.6 486.0,392.0 C487.2,393.4 489.3,395.0 490.0,395.6" fill="none" stroke="#2ef0f8" stroke-width="1.5" stroke-linejoin="round" stroke-linecap="round"/>
<path d="M490.0,395.6 C489.3,396.2 487.4,397.1 486.0,399.0 C484.6,400.9 483.3,402.6 481.6,406.9 C479.9,411.2 477.6,420.9 475.6,424.9 C473.6,428.9 471.6,427.8 469.6,430.8 C467.6,433.8 465.4,439.2 463.7,442.8 C462.0,446.4 461.3,452.5 459.5,452.5 C457.5,452.5 456.8,445.6 454.7,442.8 C452.6,440.1 449.3,439.1 447.2,436.0 C445.1,432.9 444.2,426.2 442.0,424.0 C439.8,421.8 437.2,422.6 433.8,422.6 C430.4,422.6 427.6,431.7 425.6,435.3 C423.6,438.9 423.5,444.3 421.9,444.3 C420.3,444.3 419.5,441.4 418.1,438.3 C416.7,435.2 415.2,428.2 413.7,425.6 C412.2,423.0 411.1,422.6 409.2,422.6 C408.2,422.6 407.8,422.0 406.9,424.9 C406.0,427.8 404.8,435.6 404.0,439.8 C403.2,444.0 402.7,446.3 402.0,450.0 C401.3,453.7 400.8,458.0 400.0,462.0 C399.2,466.0 398.2,471.1 397.5,474.0 C396.8,476.9 397.0,477.4 396.0,479.5 C395.0,481.6 393.0,484.4 391.5,486.3 C390.0,488.2 388.2,488.6 387.0,490.7 C385.8,492.8 384.9,496.5 384.0,499.0 C383.1,501.5 382.4,505.7 381.3,505.7 C379.9,505.7 379.0,497.6 378.0,493.7 C377.0,489.8 376.1,485.1 375.1,482.5 C374.1,479.9 372.4,478.8 371.8,478.1" fill="none" stroke="#2ef0f8" stroke-width="1.5" stroke-linejoin="round" stroke-linecap="round"/>
<path d="M371.8,307.6 C372.2,306.2 373.5,301.4 374.3,299.3 C375.1,297.2 375.9,295.8 376.6,294.9 C377.4,294.0 377.9,294.1 378.8,294.1 C380.1,294.1 380.9,295.6 381.8,297.1 C382.7,298.6 383.2,301.5 384.0,303.1 C384.8,304.7 385.3,306.8 386.3,306.8 C387.5,306.8 388.0,306.1 389.2,306.1 C390.2,306.1 390.8,306.5 391.5,307.6 C392.2,308.7 392.9,310.1 393.7,312.8 C394.4,315.5 395.2,320.0 396.0,324.0 C396.8,328.0 397.7,333.0 398.5,337.0 C399.3,341.0 400.3,344.9 401.0,348.0 C401.7,351.1 401.6,352.0 402.5,355.8 C403.4,359.6 405.0,366.6 406.2,370.7 C407.4,374.8 408.1,380.4 409.5,380.4 C410.9,380.4 411.8,377.0 412.9,373.7 C414.0,370.4 414.9,363.8 415.9,360.3 C416.9,356.8 417.8,354.7 418.9,352.8 C420.0,350.9 420.9,349.1 422.3,349.1 C423.7,349.1 424.4,351.5 425.6,353.6 C426.8,355.7 427.9,359.0 429.3,361.8 C430.7,364.6 432.2,368.5 433.8,370.7 C435.4,372.9 436.8,375.2 439.0,375.2 C440.6,375.2 441.6,368.5 442.8,364.8 C444.1,361.1 445.3,355.4 446.5,352.8 C447.7,350.2 448.6,349.1 450.2,349.1 C452.1,349.1 452.8,352.1 454.7,352.1 C456.0,352.1 456.7,348.9 457.7,347.6 C458.7,346.4 459.4,344.6 460.7,344.6 C462.3,344.6 463.2,347.3 464.4,349.9 C465.6,352.5 467.0,357.7 468.1,360.3 C469.2,362.9 469.8,365.5 471.1,365.5 C472.7,365.5 473.3,364.8 474.9,364.8 C475.8,364.8 476.4,369.3 477.1,372.2 C477.8,375.1 478.6,379.0 479.3,382.0 C480.0,385.0 480.4,387.7 481.3,390.0 C482.2,392.3 482.9,394.7 484.7,395.6 C486.5,396.5 490.8,395.6 492.0,395.6" fill="none" stroke="#1010ee" stroke-width="2.2" stroke-linejoin="round" stroke-linecap="round"/>
<path d="M484.7,395.6 C484.2,396.7 482.5,399.4 481.5,402.3 C480.5,405.2 479.8,409.0 478.8,413.0 C477.8,417.0 476.9,426.5 475.5,426.5 C474.6,426.5 474.2,424.0 473.3,424.0 C472.4,424.0 472.1,423.3 471.2,424.4 C470.3,425.5 469.1,428.2 468.1,430.8 C467.1,433.4 466.3,437.2 465.1,439.8 C463.9,442.4 462.5,446.5 460.7,446.5 C458.5,446.5 457.6,439.5 455.4,439.5 C453.6,439.5 452.8,442.0 451.0,442.0 C449.1,442.0 447.9,438.5 446.5,435.3 C445.1,432.1 444.0,425.8 442.8,422.6 C441.6,419.4 440.9,415.9 439.5,415.9 C437.7,415.9 436.8,419.4 435.3,421.1 C433.9,422.8 432.2,424.4 430.8,426.3 C429.4,428.2 428.3,429.9 427.1,432.3 C425.9,434.7 425.0,440.5 423.4,440.5 C420.9,440.5 419.0,438.0 417.4,434.6 C415.8,431.2 414.9,424.3 413.7,420.4 C412.4,416.5 411.5,411.4 409.9,411.4 C408.3,411.4 407.3,417.4 406.2,421.9 C405.1,426.4 404.2,434.9 403.2,438.3 C402.2,441.7 401.1,440.1 400.2,442.0 C399.3,443.9 398.6,447.3 398.0,450.0 C397.4,452.7 397.2,454.7 396.7,458.0 C396.2,461.3 395.8,466.4 395.2,469.9 C394.6,473.4 394.0,476.4 393.0,478.8 C392.0,481.2 390.3,483.4 389.2,484.5 C388.1,485.6 387.4,484.3 386.3,485.5 C385.2,486.7 383.6,489.9 382.5,491.5 C381.4,493.1 380.5,494.4 379.5,495.2 C378.5,496.0 377.8,496.4 376.6,496.4 C375.6,496.4 375.1,494.0 374.3,492.2 C373.5,490.4 372.2,486.6 371.8,485.5" fill="none" stroke="#1010ee" stroke-width="2.2" stroke-linejoin="round" stroke-linecap="round"/>
<path d="M544.0,395.6 C544.5,395.2 546.0,393.7 547.0,393.0 C548.0,392.3 548.7,391.5 550.0,391.5 C552.0,391.5 552.7,393.9 554.7,393.9 C556.0,393.9 556.8,391.1 557.7,389.5 C558.6,387.9 559.2,385.6 560.0,384.0 C560.8,382.4 561.7,380.9 562.5,380.0 C563.3,379.1 564.1,379.3 565.0,378.5 C565.9,377.7 566.9,376.2 568.0,375.0 C569.1,373.8 570.7,372.4 571.9,371.5 C573.1,370.6 573.9,370.7 575.0,369.5 C576.1,368.3 577.5,366.8 578.6,364.5 C579.7,362.2 580.7,358.2 581.6,356.0 C582.5,353.8 583.1,351.5 584.1,351.5 C585.3,351.5 586.1,353.4 587.0,354.0 C587.9,354.6 588.5,355.0 589.5,355.0 C590.9,355.0 591.6,345.5 592.8,342.4 C594.0,339.3 594.9,336.4 596.5,336.4 C598.1,336.4 599.1,336.7 600.2,339.4 C601.3,342.1 602.2,349.5 603.2,352.8 C604.2,356.1 604.9,359.1 606.2,359.1 C607.1,359.1 607.6,356.8 608.4,355.8 C609.2,354.8 609.9,353.3 610.9,353.3 C612.5,353.3 613.2,356.2 614.8,356.2 C616.2,356.2 617.2,347.5 618.1,343.1 C619.0,338.7 619.2,333.1 620.0,330.0 C620.8,326.9 621.5,324.2 622.6,324.2 C624.0,324.2 624.8,326.5 625.9,328.1 C627.0,329.7 628.2,332.3 629.2,334.0 C630.2,335.7 630.7,338.5 631.8,338.5 C632.9,338.5 633.4,333.7 634.4,331.3 C635.4,328.9 636.3,324.2 637.6,324.2 C639.0,324.2 639.9,326.9 640.9,328.1 C641.9,329.3 642.5,330.7 643.5,331.3 C644.5,331.9 645.4,332.0 646.8,332.0 C648.2,332.0 649.0,328.5 650.1,326.1 C651.2,323.7 652.1,317.6 653.6,317.6 C655.7,317.6 656.4,320.9 658.5,320.9 C660.7,320.9 662.0,319.3 663.8,318.3 C665.5,317.3 666.8,315.0 669.0,315.0 C669.8,315.0 670.7,316.1 671.0,316.3" fill="none" stroke="#eb9c4c" stroke-width="1.5" stroke-linejoin="round" stroke-linecap="round"/>
<path d="M544.0,395.6 C544.5,396.1 546.0,397.8 547.0,398.5 C548.0,399.2 548.7,400.0 550.0,400.0 C551.8,400.0 552.4,397.2 554.2,397.2 C555.5,397.2 556.2,398.5 557.2,400.0 C558.2,401.5 559.2,404.2 560.1,406.0 C561.0,407.8 561.4,411.0 562.4,411.0 C563.7,411.0 564.1,410.5 565.4,410.5 C567.0,410.5 567.9,415.5 569.1,416.5 C570.3,417.5 571.4,415.5 572.8,416.5 C574.2,417.5 576.0,420.5 577.3,422.6 C578.5,424.7 579.1,426.6 580.3,429.3 C581.5,432.0 582.7,439.0 584.5,439.0 C585.8,439.0 586.6,436.8 587.5,436.0 C588.4,435.2 589.0,434.0 590.0,434.0 C591.3,434.0 591.8,439.4 593.0,442.8 C594.2,446.2 595.6,454.7 597.5,454.7 C599.1,454.7 600.1,451.4 601.2,448.7 C602.3,446.0 603.3,441.0 604.2,438.3 C605.1,435.6 605.5,432.3 606.4,432.3 C607.7,432.3 608.4,433.8 609.4,434.6 C610.4,435.4 611.1,436.9 612.3,436.9 C613.3,436.9 613.6,434.7 614.6,434.7 C616.0,434.7 616.6,444.1 617.9,449.3 C619.2,454.5 620.5,466.0 622.4,466.0 C624.3,466.0 625.2,461.4 626.9,459.3 C628.6,457.2 630.1,453.3 632.5,453.3 C633.9,453.3 634.8,459.3 635.8,461.6 C636.8,463.9 637.4,467.2 638.5,467.2 C639.7,467.2 640.2,464.1 641.4,462.7 C642.6,461.3 644.0,458.7 645.9,458.7 C647.8,458.7 648.9,462.4 650.4,464.9 C651.9,467.4 653.0,473.9 654.8,473.9 C656.7,473.9 657.4,470.5 659.3,470.5 C661.7,470.5 663.2,473.0 664.9,473.9 C666.6,474.8 667.5,476.1 669.4,476.1 C670.3,476.1 671.2,474.3 671.6,473.9" fill="none" stroke="#eb9c4c" stroke-width="1.5" stroke-linejoin="round" stroke-linecap="round"/>
<path d="M491,395.6 L500,395.6 C503,395.6 504,401.7 506,401.7 C508,401.7 509,395.6 512,395.6 L544,395.6" fill="none" stroke="#f20a0a" stroke-width="2.2"/>
<path d="M544.0,395.6 C544.5,395.0 546.0,392.9 547.0,392.0 C548.0,391.1 548.6,390.1 549.8,390.1 C550.7,390.1 551.2,390.9 552.0,391.5 C552.8,392.1 553.6,393.9 554.7,393.9 C556.0,393.9 556.8,390.6 557.7,388.7 C558.6,386.8 559.1,384.3 559.9,382.7 C560.6,381.1 561.5,379.6 562.2,379.0 C563.0,378.4 563.5,379.5 564.4,379.0 C565.3,378.5 566.5,377.0 567.4,376.0 C568.3,375.0 568.7,373.0 569.6,373.0 C570.6,373.0 570.9,373.7 571.9,373.7 C573.2,373.7 573.8,372.1 574.9,370.7 C576.0,369.3 577.5,367.9 578.6,365.5 C579.7,363.1 580.7,359.0 581.6,356.6 C582.5,354.2 583.1,351.3 584.1,351.3 C585.2,351.3 585.9,353.1 586.8,354.3 C587.7,355.6 588.4,358.8 589.5,358.8 C590.9,358.8 591.4,352.6 592.8,349.9 C594.2,347.2 595.8,342.4 598.0,342.4 C599.6,342.4 600.7,347.1 601.7,349.1 C602.7,351.1 603.2,353.2 604.0,354.3 C604.8,355.4 605.3,354.8 606.2,355.8 C607.1,356.8 608.2,358.8 609.2,360.3 C610.2,361.8 610.9,365.0 612.2,365.0 C613.5,365.0 614.3,364.2 615.4,362.7 C616.5,361.2 617.7,358.8 618.7,356.2 C619.7,353.6 620.4,349.3 621.3,347.0 C622.2,344.7 622.8,342.4 623.9,342.4 C625.8,342.4 627.3,344.5 628.5,345.7 C629.7,346.9 630.3,348.0 631.1,349.6 C631.9,351.2 632.4,354.1 633.1,355.5 C633.8,356.9 634.4,358.1 635.3,358.1 C636.6,358.1 637.2,356.0 638.3,354.9 C639.3,353.8 640.3,352.4 641.6,351.6 C642.9,350.8 644.7,351.1 646.1,350.3 C647.5,349.5 648.7,347.8 650.1,347.0 C651.5,346.2 653.1,346.6 654.6,345.7 C656.1,344.8 657.7,343.1 659.2,341.8 C660.7,340.5 661.9,337.9 663.8,337.9 C665.1,337.9 665.8,341.8 667.0,343.1 C668.2,344.4 670.3,345.3 671.0,345.7" fill="none" stroke="#f20a0a" stroke-width="2.2" stroke-linejoin="round" stroke-linecap="round"/>
<path d="M544.0,395.6 C544.5,396.2 546.0,398.1 547.0,399.0 C548.0,399.9 548.6,401.0 549.7,401.0 C550.7,401.0 551.2,399.6 552.0,399.0 C552.8,398.4 553.3,397.2 554.2,397.2 C555.5,397.2 556.2,398.6 557.2,400.2 C558.2,401.8 559.2,404.9 560.1,406.9 C561.0,408.9 561.4,412.2 562.4,412.2 C563.7,412.2 564.1,411.7 565.4,411.7 C567.0,411.7 567.9,416.4 569.1,417.4 C570.3,418.3 571.4,416.5 572.8,417.4 C574.2,418.3 576.0,420.6 577.3,422.6 C578.5,424.6 579.1,426.4 580.3,429.3 C581.5,432.2 582.7,439.8 584.5,439.8 C585.5,439.8 586.1,437.1 587.0,436.0 C587.9,434.9 588.6,433.1 589.7,433.1 C590.8,433.1 591.3,435.5 592.2,437.5 C593.1,439.5 594.2,443.2 595.2,445.0 C596.2,446.8 597.1,448.4 598.5,448.4 C599.9,448.4 600.9,443.2 601.9,441.3 C602.9,439.4 603.2,437.8 604.2,436.8 C605.2,435.8 606.6,437.0 607.9,435.3 C609.1,433.6 610.1,426.4 611.7,426.4 C613.3,426.4 614.1,427.7 615.5,430.0 C616.9,432.3 618.6,437.3 620.1,440.3 C621.6,443.3 622.5,448.1 624.2,448.1 C626.3,448.1 627.2,444.9 629.1,442.5 C631.0,440.1 632.8,433.6 635.4,433.6 C637.9,433.6 639.3,438.6 641.4,440.3 C643.5,442.0 646.0,442.8 648.1,443.7 C650.2,444.6 651.8,445.0 653.7,445.9 C655.6,446.8 657.6,448.1 659.3,449.3 C661.0,450.5 661.9,453.3 663.8,453.3 C665.7,453.3 666.4,445.9 668.3,445.9 C669.5,445.9 670.7,446.5 671.2,446.6" fill="none" stroke="#f20a0a" stroke-width="2.2" stroke-linejoin="round" stroke-linecap="round"/>
<line x1="507.6" y1="385.3" x2="507.6" y2="406.7" stroke="#555" stroke-width="1.3" stroke-dasharray="2,2"/>
<line x1="532.9" y1="385.3" x2="532.9" y2="406.7" stroke="#555" stroke-width="1.3" stroke-dasharray="2,2"/>
<line x1="409.2" y1="385.7" x2="409.2" y2="406.2" stroke="#444" stroke-width="1.1" />
<line x1="604.4" y1="385.0" x2="604.4" y2="406.2" stroke="#444" stroke-width="1.1" />
<line x1="371.8" y1="283.7" x2="371.8" y2="513.3" stroke="#000" stroke-width="1.7" />
<line x1="371.0" y1="506.8" x2="671.5" y2="506.8" stroke="#000" stroke-width="1.8" />
<line x1="371.5" y1="506.8" x2="371.5" y2="513.3" stroke="#000" stroke-width="1.3" />
<line x1="396.5" y1="506.8" x2="396.5" y2="510.6" stroke="#000" stroke-width="1.3" />
<line x1="421.5" y1="506.8" x2="421.5" y2="510.6" stroke="#000" stroke-width="1.3" />
<line x1="446.5" y1="506.8" x2="446.5" y2="510.6" stroke="#000" stroke-width="1.3" />
<line x1="471.5" y1="506.8" x2="471.5" y2="510.6" stroke="#000" stroke-width="1.3" />
<line x1="496.4" y1="506.8" x2="496.4" y2="513.3" stroke="#000" stroke-width="1.3" />
<line x1="521.4" y1="506.8" x2="521.4" y2="510.6" stroke="#000" stroke-width="1.3" />
<line x1="546.4" y1="506.8" x2="546.4" y2="510.6" stroke="#000" stroke-width="1.3" />
<line x1="571.4" y1="506.8" x2="571.4" y2="510.6" stroke="#000" stroke-width="1.3" />
<line x1="596.4" y1="506.8" x2="596.4" y2="510.6" stroke="#000" stroke-width="1.3" />
<line x1="621.4" y1="506.8" x2="621.4" y2="513.3" stroke="#000" stroke-width="1.3" />
<line x1="646.4" y1="506.8" x2="646.4" y2="510.6" stroke="#000" stroke-width="1.3" />
<line x1="671.4" y1="506.8" x2="671.4" y2="510.6" stroke="#000" stroke-width="1.3" />
<line x1="366.3" y1="395.6" x2="371.8" y2="395.6" stroke="#000" stroke-width="1.4" />
<text x="371.5" y="527.7" font-size="13.7" fill="#111" text-anchor="middle" font-weight="normal" font-family="Liberation Sans" >-10</text>
<text x="496.4" y="527.7" font-size="13.7" fill="#111" text-anchor="middle" font-weight="normal" font-family="Liberation Sans" >-5</text>
<text x="621.4" y="527.7" font-size="13.7" fill="#111" text-anchor="middle" font-weight="normal" font-family="Liberation Sans" >0</text>
<text x="518.9" y="527.7" font-size="13.4" fill="#111" font-family="Liberation Sans">E - E<tspan dy="4.3" font-size="8.6">vac</tspan><tspan dy="-4.3"> [eV]</tspan></text>
<text x="347.6" y="298.4" font-size="22.5" fill="#000" text-anchor="start" font-weight="bold" font-family="Liberation Sans" >d</text>
<text transform="translate(359.3,308.7) rotate(-90)" font-size="15" fill="#111" text-anchor="middle" font-family="Liberation Sans"><tspan font-family="Liberation Serif">&#945;</tspan></text>
<text transform="translate(360.3,390.7) rotate(-90)" font-size="13.8" fill="#111" text-anchor="middle" font-family="Liberation Sans">DOS [a.u.]</text>
<text transform="translate(360.2,484.4) rotate(-90)" font-size="15" fill="#111" text-anchor="middle" font-family="Liberation Sans"><tspan font-family="Liberation Serif">&#946;</tspan></text>
<text x="443.7" y="295.0" font-size="11" fill="#111" text-anchor="start" font-weight="normal" font-family="Liberation Sans" >Si<tspan dy="3.8" font-size="6.4">84</tspan><tspan dy="-3.8">(OH)</tspan><tspan dy="3.8" font-size="6.4">64</tspan></text>
<text x="514.9" y="295.0" font-size="11" fill="#111" text-anchor="start" font-weight="normal" font-family="Liberation Sans" >Si<tspan dy="3.8" font-size="6.4">83</tspan><tspan dy="-3.8">B(OH)</tspan><tspan dy="3.8" font-size="6.4">64</tspan></text>
<line x1="452.2" y1="307.9" x2="477.3" y2="307.9" stroke="#eb9c4c" stroke-width="1.5" />
<line x1="452.2" y1="321.0" x2="477.3" y2="321.0" stroke="#2ef0f8" stroke-width="1.5" />
<line x1="545.1" y1="307.7" x2="570.4" y2="307.7" stroke="#f20a0a" stroke-width="2" />
<line x1="545.1" y1="321.0" x2="570.4" y2="321.0" stroke="#1010ee" stroke-width="2" />
<text x="494.4" y="311.5" font-size="11.7" fill="#111" text-anchor="start" font-weight="normal" font-family="Liberation Sans" >unocc.</text>
<text x="500.9" y="324.3" font-size="11.7" fill="#111" text-anchor="start" font-weight="normal" font-family="Liberation Sans" >occ.</text>
<text x="504.4" y="416.0" font-size="9.5" fill="#808080" text-anchor="start" font-weight="normal" font-family="Liberation Sans" >E<tspan dy="3.4" font-size="6.2">V</tspan></text>
<text x="531.3" y="416.0" font-size="9.5" fill="#808080" text-anchor="start" font-weight="normal" font-family="Liberation Sans" >E<tspan dy="3.4" font-size="6.2">C</tspan></text>
<text x="522.4" y="429.4" font-size="9.2" fill="#8c8c8c" text-anchor="middle" font-weight="normal" font-family="Liberation Sans" >bulk-Si</text>
<text x="522.6" y="439.7" font-size="9.2" fill="#8c8c8c" text-anchor="middle" font-weight="normal" font-family="Liberation Sans" >(scaled)</text>
<path d="M409.4,475.8 L409.4,501.2 L395.7,501.2" fill="none" stroke="#444" stroke-width="1.1"/>
<path d="M390.7,501.2 L398.2,498.6 L395.9,501.2 L398.2,503.8 Z" fill="#111"/>
<path d="M604.0,456.0 L604.0,497.4 L617.4,497.4" fill="none" stroke="#444" stroke-width="1.1"/>
<path d="M622.4,497.4 L614.9,494.8 L617.2,497.4 L614.9,500.0 Z" fill="#111"/>
<text x="413.1" y="483.3" font-size="9.2" fill="#222" text-anchor="start" font-weight="normal" font-family="Liberation Sans" >OH</text>
<text x="413.1" y="494.5" font-size="9.2" fill="#222" text-anchor="start" font-weight="normal" font-family="Liberation Sans" >groups</text>
<text x="606.7" y="475.7" font-size="9.2" fill="#222" text-anchor="start" font-weight="normal" font-family="Liberation Sans" >OH</text>
<text x="606.7" y="486.2" font-size="9.2" fill="#222" text-anchor="start" font-weight="normal" font-family="Liberation Sans" >groups</text>
</svg>
</body></html>
